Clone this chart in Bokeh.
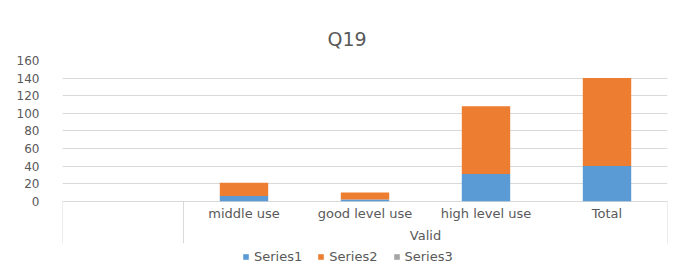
from bokeh.plotting import figure
from bokeh.models import ColumnDataSource, FactorRange, FixedTicker, Range1d
from bokeh.core.properties import value
from bokeh.embed import file_html
from bokeh.resources import INLINE

# ---- data ----
group = ["Valid", "Valid", "Valid", "Valid"]
categories = ["middle use", "good level use", "high level use", "Total"]
series1 = [6, 2, 31, 40]
series2 = [15, 8, 77, 100]
series3 = [0, 0, 0, 0]
series_names = ["Series1", "Series2", "Series3"]
colors = ["#5b9bd5", "#ed7d31", "#a5a5a5"]
y_ticks = [0, 20, 40, 60, 80, 100, 120, 140, 160]

FONT = value("DejaVu Sans")
TXT = "#595959"
GRID = "#d9d9d9"

xy = list(zip(group, categories))
factors = [(" ", " ")] + xy
x_range = FactorRange(factors=factors, factor_padding=0, group_padding=0,
                      subgroup_padding=0, range_padding=0)

p = figure(width=684, height=274, x_range=x_range, y_range=Range1d(-83.4, 160),
           output_backend="svg", toolbar_location=None,
           min_border_left=62, min_border_right=17, min_border_top=60, min_border_bottom=0)

source = ColumnDataSource(dict(x=xy, s1=series1, s2=series2, s3=series3))
p.vbar_stack(["s1", "s2", "s3"], x="x", width=0.4, source=source,
             fill_color=colors, line_color=None, legend_label=series_names)

# category axis box lines
sep_x = [(" ", " ", -0.5), ("Valid", "middle use", -0.5), ("Valid", "Total", 0.5)]
p.segment(x0=sep_x, y0=[0, 0, 0], x1=sep_x, y1=[-48, -48, -48],
          line_color=GRID, line_width=1)

# category labels
p.text(x=xy, y=[-14] * len(xy), text=categories, text_align="center",
       text_baseline="middle", text_font=FONT, text_font_size="13px", text_color=TXT)
p.text(x=[("Valid", "good level use", 0.5)], y=[-39], text=["Valid"], text_align="center",
       text_baseline="middle", text_font=FONT, text_font_size="13px", text_color=TXT)

# axes / grid
p.xaxis.visible = False
p.xgrid.grid_line_color = None
p.yaxis.ticker = FixedTicker(ticks=y_ticks)
p.yaxis.axis_line_color = None
p.yaxis.major_tick_line_color = None
p.yaxis.minor_tick_line_color = None
p.yaxis.major_label_standoff = 17
p.yaxis.major_label_text_font = "DejaVu Sans"
p.yaxis.major_label_text_font_size = "12px"
p.yaxis.major_label_text_color = TXT
p.ygrid.grid_line_color = GRID
p.outline_line_color = None

# title
p.title.text = "Q19"
p.title.align = "left"
p.title.offset = 265
p.title.standoff = 22
p.title.text_font = "DejaVu Sans"
p.title.text_font_size = "19px"
p.title.text_font_style = "normal"
p.title.text_color = TXT

# legend
lg = p.legend[0]
lg.orientation = "horizontal"
lg.location = (180, 10)
lg.background_fill_alpha = 0
lg.border_line_color = None
lg.glyph_width = 7
lg.glyph_height = 7
lg.label_height = 12
lg.label_standoff = 5
lg.spacing = 15
lg.padding = 0
lg.margin = 0
lg.label_text_font = "DejaVu Sans"
lg.label_text_font_size = "13px"
lg.label_text_color = TXT

open("out.html", "w").write(file_html(p, INLINE))
